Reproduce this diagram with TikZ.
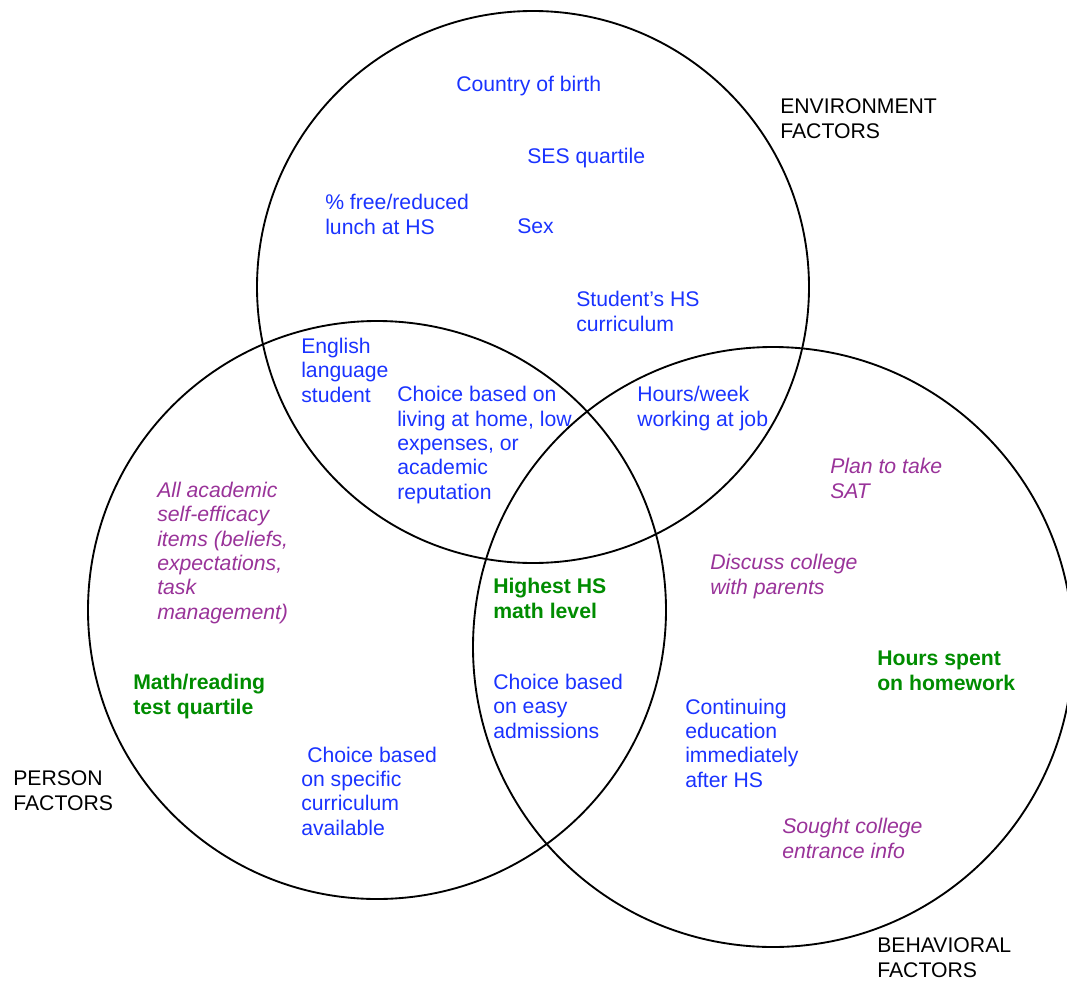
\documentclass[tikz,border=0pt]{standalone}
\usepackage{fontspec}
\setmainfont{Liberation Sans}
\definecolor{factblue}{RGB}{26,51,255}
\definecolor{itempurple}{RGB}{153,51,153}
\definecolor{keygreen}{RGB}{0,140,0}
\newcommand{\vennfont}{\fontsize{15.9}{18.2}\selectfont}
\begin{document}
\begin{tikzpicture}[
    x=0.75pt, y=-0.75pt,
    every node/.style={inner sep=0pt, anchor=base west, align=left, font=\vennfont},
    factor/.style={text=factblue},
    belief/.style={text=itempurple, font=\vennfont\itshape},
    keyvar/.style={text=keygreen, font=\vennfont\bfseries},
    setname/.style={text=black},
    setring/.style={draw, line width=1.4pt}
]
\useasboundingbox (0,0) rectangle (1067,981);

% the three sets
\coordinate (envc) at (533,287);
\coordinate (perc) at (377,610);
\coordinate (behc) at (773,647);
\draw[setring] (envc) circle[radius=276];
\draw[setring] (perc) circle[radius=289];
\draw[setring] (behc) circle[radius=300];

% set names (placed by the baseline of the last line)
\node[setname] (env) at (780,138) {ENVIRONMENT\\FACTORS};
\node[setname] (per) at (13,810) {PERSON\\FACTORS};
\node[setname] (beh) at (877,977) {BEHAVIORAL\\FACTORS};

% environment only
\node[factor] (birth) at (456,91) {Country of birth};
\node[factor] (ses) at (527,163) {SES quartile};
\node[factor] (lunch) at (325,234) {\% free/reduced\\lunch at HS};
\node[factor] (sex) at (517,233) {Sex};
\node[factor] (curric) at (576,331) {Student’s HS\\curriculum};

% environment and person
\node[factor] (english) at (301,402) {English\\language\\student};
% environment, person and behaviour
\node[factor] (home) at (397,499) {Choice based on\\living at home, low\\expenses, or\\academic\\reputation};
% environment and behaviour
\node[factor] (job) at (637,426) {Hours/week\\working at job};

% person only
\node[belief] (efficacy) at (157,619) {All academic\\self-efficacy\\items (beliefs,\\expectations,\\task\\management)};
\node[keyvar] (test) at (133,714) {Math/reading\\test quartile};
\node[factor] (specific) at (301,835) {\hspace{4.5pt}Choice based\\on specific\\curriculum\\available};

% person and behaviour
\node[keyvar] (mathlvl) at (493,618) {Highest HS\\math level};
\node[factor] (easy) at (493,738) {Choice based\\on easy\\admissions};

% behaviour only
\node[belief] (sat) at (830,498) {Plan to take\\SAT};
\node[belief] (parents) at (710,594) {Discuss college\\with parents};
\node[keyvar] (homework) at (877,690) {Hours spent\\on homework};
\node[factor] (continue) at (685,787) {Continuing\\education\\immediately\\after HS};
\node[belief] (sought) at (782,858) {Sought college\\entrance info};
\end{tikzpicture}
\end{document}
